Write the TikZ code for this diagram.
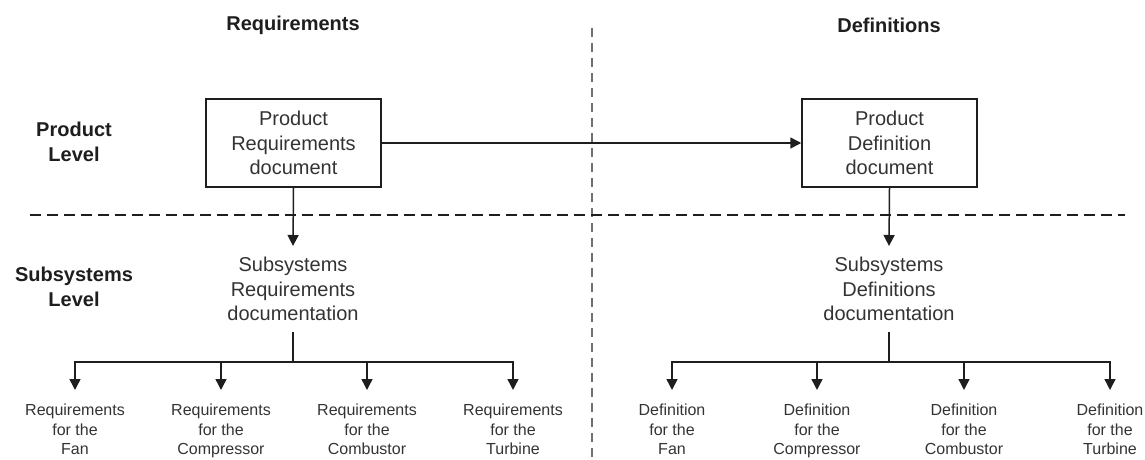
\documentclass[tikz,border=0pt]{standalone}
\usepackage{fontspec}
\setmainfont{Liberation Sans}
\usetikzlibrary{arrows.meta}
\definecolor{ink}{HTML}{1E1E1E}
\definecolor{txt}{HTML}{333333}
\definecolor{sep}{HTML}{707070}
\tikzset{
  head/.style={font=\fontsize{20}{25}\selectfont\bfseries, text=ink, align=center, inner sep=0pt},
  docbox/.style={draw=ink, line width=1.5pt, minimum width=175pt, minimum height=88pt, align=center, font=\fontsize{20}{24.5}\selectfont, text=txt, inner sep=0pt},
  subdoc/.style={align=center, font=\fontsize{20}{24.5}\selectfont, text=txt, inner xsep=0pt, inner ysep=11pt, anchor=north},
  leaf/.style={align=center, font=\fontsize{16}{19.5}\selectfont, text=txt, inner xsep=0pt, inner ysep=14pt, anchor=north},
  conn/.style={draw=ink, line width=1.5pt},
  arr/.style={conn, -{Triangle[length=11pt,width=11pt]}},
}
\begin{document}
\begin{tikzpicture}[x=1pt,y=-1pt]
\useasboundingbox (0,0) rectangle (1145,460);
% separators
\draw[sep, line width=2.5pt, dash pattern=on 9pt off 6pt] (592,28) -- (592,460);
\draw[ink, line width=1.6pt, dash pattern=on 11pt off 6pt] (30,215) -- (1125,215);
% headings
\node[head] (hreq) at (293,25) {Requirements};
\node[head] (hdef) at (889,25) {Definitions};
\node[head] (lprod) at (74,142) {Product\\Level};
\node[head] (lsub) at (74,287) {Subsystems\\Level};
% product level
\node[docbox] (pr) at (293.5,143) {Product\\Requirements\\document};
\node[docbox] (pd) at (889.5,143) {Product\\Definition\\document};
\draw[arr] (pr.east) -- (pd.west);
% subsystems
\node[subdoc] (sr) at (293,246) {Subsystems\\Requirements\\documentation};
\node[subdoc] (sd) at (889,246) {Subsystems\\Definitions\\documentation};
\draw[arr] (pr.south) -- (sr.north);
\draw[arr] (pd.south) -- (sd.north);
% leaves left
\node[leaf] (r1) at (75,390) {Requirements\\for the\\Fan};
\node[leaf] (r2) at (221,390) {Requirements\\for the\\Compressor};
\node[leaf] (r3) at (367,390) {Requirements\\for the\\Combustor};
\node[leaf] (r4) at (513,390) {Requirements\\for the\\Turbine};
\coordinate (hl) at (293,362);
\draw[conn] (sr.south) -- (hl);
\draw[arr] (hl) -| (r1.north);
\draw[arr] (hl) -| (r2.north);
\draw[arr] (hl) -| (r3.north);
\draw[arr] (hl) -| (r4.north);
% leaves right
\node[leaf] (d1) at (672,390) {Definition\\for the\\Fan};
\node[leaf] (d2) at (817,390) {Definition\\for the\\Compressor};
\node[leaf] (d3) at (964,390) {Definition\\for the\\Combustor};
\node[leaf] (d4) at (1110,390) {Definition\\for the\\Turbine};
\coordinate (hr) at (889,362);
\draw[conn] (sd.south) -- (hr);
\draw[arr] (hr) -| (d1.north);
\draw[arr] (hr) -| (d2.north);
\draw[arr] (hr) -| (d3.north);
\draw[arr] (hr) -| (d4.north);
\end{tikzpicture}
\end{document}
